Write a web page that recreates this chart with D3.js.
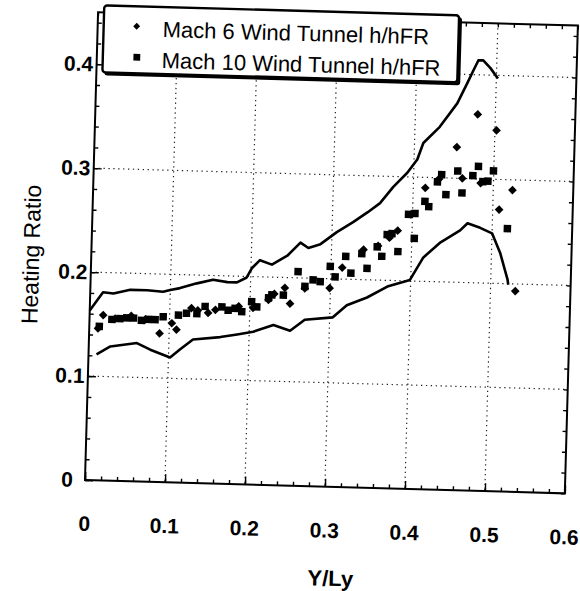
<!DOCTYPE html>
<html>
<head>
<meta charset="utf-8">
<script src="https://cdn.jsdelivr.net/npm/d3@7"></script>
<style>
  body { margin: 0; background: #fff; }
  svg { display: block; font-family: "Liberation Sans", Arial, sans-serif; }
</style>
</head>
<body>
<svg id="chart" width="580" height="591"></svg>
<script>
// values
var xTicks = [0, 0.1, 0.2, 0.3, 0.4, 0.5, 0.6];
var yTicks = [0, 0.1, 0.2, 0.3, 0.4];
var legendLabels = ["Mach 6 Wind Tunnel h/hFR", "Mach 10 Wind Tunnel h/hFR"];

var mach6 = [
  [0.011,0.146],[0.017,0.159],[0.032,0.156],[0.052,0.159],[0.070,0.156],
  [0.088,0.143],[0.103,0.153],[0.109,0.147],[0.127,0.168],[0.135,0.166],
  [0.148,0.164],[0.157,0.167],[0.186,0.171],[0.204,0.170],[0.223,0.178],
  [0.230,0.184],[0.243,0.190],[0.250,0.175],[0.268,0.190],[0.299,0.191],
  [0.314,0.211],[0.340,0.229],[0.358,0.233],[0.372,0.241],[0.382,0.248],
  [0.398,0.264],[0.415,0.290],[0.432,0.299],[0.453,0.330],[0.461,0.300],
  [0.478,0.362],[0.484,0.296],[0.502,0.347],[0.508,0.271],[0.524,0.290],
  [0.531,0.193]
];

var mach10 = [
  [0.0125,0.148],[0.028,0.155],[0.038,0.156],[0.0465,0.157],[0.055,0.157],
  [0.065,0.155],[0.0735,0.156],[0.082,0.156],[0.092,0.159],[0.111,0.161],
  [0.121,0.163],[0.134,0.163],[0.144,0.170],[0.165,0.170],[0.173,0.167],
  [0.1815,0.169],[0.190,0.166],[0.202,0.176],[0.2086,0.171],[0.223,0.180],
  [0.227,0.183],[0.2414,0.183],[0.259,0.206],[0.268,0.192],[0.278,0.1985],
  [0.287,0.197],[0.299,0.212],[0.3054,0.202],[0.318,0.222],[0.325,0.206],
  [0.338,0.225],[0.345,0.211],[0.357,0.232],[0.363,0.223],[0.369,0.244],
  [0.375,0.245],[0.383,0.228],[0.395,0.264],[0.403,0.265],[0.403,0.241],
  [0.415,0.277],[0.420,0.272],[0.430,0.296],[0.435,0.303],[0.441,0.284],
  [0.455,0.307],[0.461,0.286],[0.474,0.303],[0.4807,0.312],[0.4867,0.2975],
  [0.493,0.298],[0.4996,0.308],[0.519,0.253]
];

var upperBound = [
  [0.000,0.163],[0.016,0.181],[0.029,0.180],[0.050,0.184],[0.071,0.184],
  [0.091,0.183],[0.100,0.185],[0.112,0.187],[0.133,0.192],[0.153,0.196],
  [0.171,0.194],[0.183,0.194],[0.195,0.199],[0.201,0.208],[0.211,0.216],
  [0.226,0.212],[0.245,0.221],[0.261,0.234],[0.271,0.229],[0.286,0.233],
  [0.306,0.245],[0.326,0.255],[0.344,0.265],[0.359,0.274],[0.375,0.290],
  [0.392,0.304],[0.404,0.317],[0.411,0.333],[0.431,0.349],[0.452,0.372],
  [0.464,0.392],[0.471,0.404],[0.477,0.414],[0.483,0.414],[0.492,0.407],
  [0.502,0.397]
];

var lowerBound = [
  [0.010,0.121],[0.027,0.129],[0.060,0.133],[0.077,0.127],[0.102,0.120],
  [0.114,0.128],[0.130,0.138],[0.164,0.141],[0.185,0.144],[0.205,0.147],
  [0.230,0.154],[0.251,0.149],[0.269,0.160],[0.304,0.163],[0.321,0.175],
  [0.346,0.183],[0.371,0.194],[0.399,0.201],[0.415,0.223],[0.436,0.238],
  [0.460,0.250],[0.469,0.257],[0.485,0.253],[0.500,0.248],[0.511,0.229],
  [0.521,0.204],[0.522,0.199]
];

var plotL = 85, plotR = 565, plotT = 12, plotB = 480;

var svg = d3.select("#chart");
// the scan is slightly tilted, so the whole figure is turned a little
var g = svg.append("g").attr("transform", "rotate(1.6," + plotL + "," + plotB + ")");

var x = d3.scaleLinear().domain([0, 0.6]).range([plotL, plotR]);
var y = d3.scaleLinear().domain([0, 0.45]).range([plotB, plotT]);

var fmt = function (d) { return d === 0 ? "0" : d3.format(".1f")(d); };
var minorX = d3.range(0, 0.6001, 0.02);
var minorY = d3.range(0, 0.4501, 0.02);

// dotted grid
g.append("g").selectAll("line").data(xTicks.slice(1, -1)).join("line")
    .attr("x1", x).attr("x2", x).attr("y1", plotT).attr("y2", plotB)
    .attr("stroke", "#222").attr("stroke-width", 1.2).attr("stroke-dasharray", "1.3,3.6");
g.append("g").selectAll("line").data(yTicks.slice(1)).join("line")
    .attr("y1", y).attr("y2", y).attr("x1", plotL).attr("x2", plotR)
    .attr("stroke", "#222").attr("stroke-width", 1.2).attr("stroke-dasharray", "1.3,3.6");

function styleAxis(sel) {
    sel.select(".domain").remove();
    sel.selectAll("line").attr("stroke", "#000").attr("stroke-width", 1.4);
}

// minor ticks on all four sides
g.append("g").attr("transform", "translate(0," + plotB + ")")
    .call(d3.axisBottom(x).tickValues(minorX).tickSize(-4).tickFormat("")).call(styleAxis);
g.append("g").attr("transform", "translate(0," + plotT + ")")
    .call(d3.axisTop(x).tickValues(minorX).tickSize(-4).tickFormat("")).call(styleAxis);
g.append("g").attr("transform", "translate(" + plotL + ",0)")
    .call(d3.axisLeft(y).tickValues(minorY).tickSize(-4).tickFormat("")).call(styleAxis);
g.append("g").attr("transform", "translate(" + plotR + ",0)")
    .call(d3.axisRight(y).tickValues(minorY).tickSize(-4).tickFormat("")).call(styleAxis);

// major ticks and labels
var xa = g.append("g").attr("transform", "translate(0," + plotB + ")")
    .call(d3.axisBottom(x).tickValues(xTicks).tickSize(-8).tickPadding(36).tickFormat(fmt));
xa.call(styleAxis);
xa.selectAll("text").attr("font-size", 21).attr("font-weight", "bold").attr("fill", "#000")
    .attr("font-family", "Liberation Sans, Arial, sans-serif");

var ya = g.append("g").attr("transform", "translate(" + plotL + ",0)")
    .call(d3.axisLeft(y).tickValues(yTicks).tickSize(-8).tickPadding(18).tickFormat(fmt));
ya.call(styleAxis);
ya.selectAll("text").attr("font-size", 21).attr("font-weight", "bold").attr("fill", "#000")
    .attr("text-anchor", "middle")
    .attr("font-family", "Liberation Sans, Arial, sans-serif");

// frame
g.append("rect").attr("x", plotL).attr("y", plotT)
    .attr("width", plotR - plotL).attr("height", plotB - plotT)
    .attr("fill", "none").attr("stroke", "#000").attr("stroke-width", 2);

// bound curves
var line = d3.line().x(function (d) { return x(d[0]); }).y(function (d) { return y(d[1]); });
[upperBound, lowerBound].forEach(function (b) {
    g.append("path").datum(b).attr("d", line)
        .attr("fill", "none").attr("stroke", "#000").attr("stroke-width", 2.6)
        .attr("stroke-linejoin", "round");
});

// data points
var diamond = d3.symbol(d3.symbolSquare, 38);
var square = d3.symbol(d3.symbolSquare, 56);
g.append("g").selectAll("path").data(mach10).join("path")
    .attr("d", square)
    .attr("transform", function (d) { return "translate(" + x(d[0]) + "," + y(d[1]) + ")"; })
    .attr("fill", "#000");
g.append("g").selectAll("path").data(mach6).join("path")
    .attr("d", diamond)
    .attr("transform", function (d) { return "translate(" + x(d[0]) + "," + y(d[1]) + ") rotate(45)"; })
    .attr("fill", "#000");

// axis titles
g.append("text").attr("x", 333).attr("y", 579)
    .attr("text-anchor", "middle").attr("font-size", 22).attr("font-weight", "bold")
    .text("Y/Ly");
g.append("text").attr("transform", "translate(33,256) rotate(-90)")
    .attr("text-anchor", "middle").attr("font-size", 23)
    .text("Heating Ratio");

// legend
var lg = g.append("g");
lg.append("rect").attr("x", 93).attr("y", 7).attr("width", 356).attr("height", 68).attr("rx", 3)
    .attr("fill", "#000");
lg.append("rect").attr("x", 91).attr("y", 5).attr("width", 355).attr("height", 67).attr("rx", 3)
    .attr("fill", "#fff").attr("stroke", "#000").attr("stroke-width", 2.4);
lg.append("path").attr("d", d3.symbol(d3.symbolSquare, 24))
    .attr("transform", "translate(124,25) rotate(45)").attr("fill", "#000");
lg.append("path").attr("d", d3.symbol(d3.symbolSquare, 46))
    .attr("transform", "translate(125,56)").attr("fill", "#000");
lg.selectAll("text").data(legendLabels).join("text")
    .attr("x", 150).attr("y", function (d, i) { return 35 + i * 31; })
    .attr("font-size", 22).attr("fill", "#000")
    .text(function (d) { return d; });
</script>
</body>
</html>
